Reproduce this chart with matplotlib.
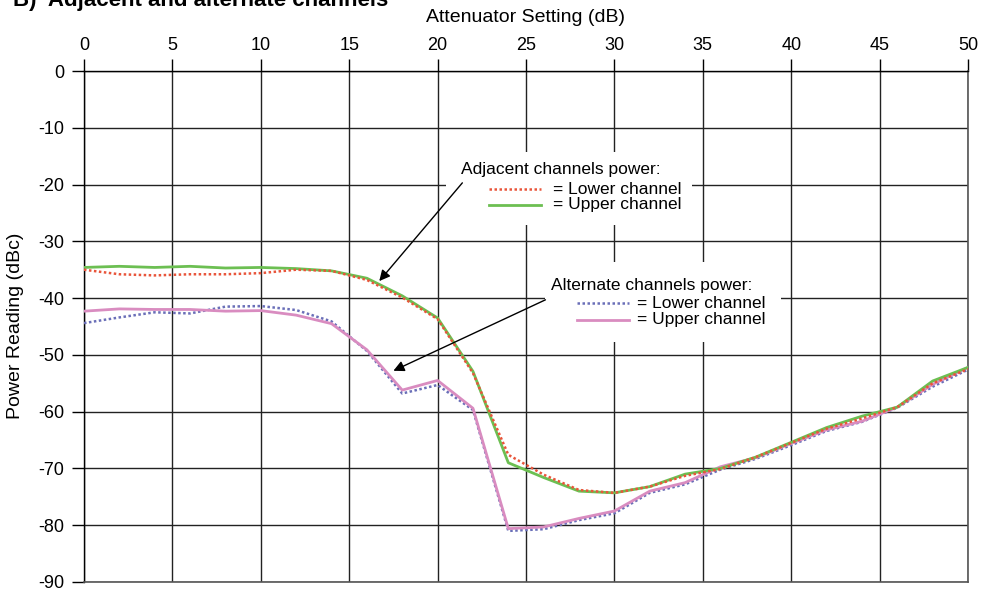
"""Adjacent / alternate channel power versus attenuator setting."""

import matplotlib
matplotlib.use("Agg")
import matplotlib.pyplot as plt
from matplotlib.patches import Rectangle

plt.rcParams["font.family"] = ["Liberation Sans", "DejaVu Sans"]
plt.rcParams["axes.unicode_minus"] = False

# attenuator steps (dB)
atten = [0, 2, 4, 6, 8, 10, 12, 14, 16, 18, 20, 22, 24, 26, 28, 30,
         32, 34, 36, 38, 40, 42, 44, 46, 48, 50]

# adjacent channel power (dBc)
adj_lower = [-35.0, -35.8, -36.0, -35.8, -35.8, -35.6, -35.0, -35.2, -36.8, -39.9,
             -43.7, -53.2, -67.6, -71.1, -73.8, -74.3, -73.2, -71.3, -70.1, -68.0,
             -65.5, -63.0, -61.2, -59.2, -55.0, -52.5]
adj_upper = [-34.6, -34.4, -34.6, -34.4, -34.7, -34.6, -34.8, -35.2, -36.5, -39.6,
             -43.5, -52.9, -69.0, -71.6, -74.0, -74.3, -73.2, -71.0, -70.0, -68.0,
             -65.4, -62.8, -60.8, -59.2, -54.6, -52.2]

# alternate channel power (dBc)
alt_lower = [-44.4, -43.4, -42.5, -42.7, -41.5, -41.4, -42.1, -44.1, -49.3, -56.8,
             -55.3, -59.7, -81.0, -80.7, -79.1, -77.9, -74.3, -72.8, -70.2, -68.3,
             -65.9, -63.4, -61.8, -59.3, -55.6, -52.6]
alt_upper = [-42.3, -41.9, -42.0, -42.0, -42.3, -42.2, -43.0, -44.5, -49.1, -56.2,
             -54.5, -59.4, -80.6, -80.3, -78.8, -77.5, -74.0, -72.5, -69.7, -68.1,
             -65.6, -63.2, -61.7, -59.2, -55.2, -52.2]

x_ticks = list(range(0, 51, 5))
y_ticks = list(range(0, -91, -10))

RED = "#e9553b"
GREEN = "#6cbf52"
BLUE = "#6a6fb8"
PINK = "#d98cc0"
DOT = (0, (1, 1))

fig = plt.figure(figsize=(9.82, 5.95), dpi=100)
ax = fig.add_axes([84 / 982, 1 - 582 / 595, 884 / 982, 511 / 595])

ax.set_xlim(0, 50)
ax.set_ylim(-90, 0)
ax.set_xticks(x_ticks)
ax.set_yticks(y_ticks)
ax.set_yticklabels([str(v) for v in y_ticks])
ax.xaxis.tick_top()
ax.tick_params(axis="both", direction="out", length=9, width=1, colors="black",
               labelsize=13)
ax.tick_params(axis="x", pad=3)
ax.tick_params(axis="y", pad=5)

ax.set_axisbelow(True)
ax.grid(True, color="#222222", lw=1)
for side in ["left", "top"]:
    ax.spines[side].set_color("black")
    ax.spines[side].set_linewidth(1)
for side in ["right", "bottom"]:
    ax.spines[side].set_color("#555555")
    ax.spines[side].set_linewidth(1.2)

# white panels behind the two legend blocks
ax.add_patch(Rectangle((20.5, -27.1), 13.9, 12.8, facecolor="white",
                       edgecolor="none", zorder=1))
ax.add_patch(Rectangle((26.1, -47.7), 13.3, 14.1, facecolor="white",
                       edgecolor="none", zorder=1))

ax.plot(atten, alt_lower, color=BLUE, lw=1.8, ls=DOT, zorder=3)
ax.plot(atten, alt_upper, color=PINK, lw=2, zorder=3)
ax.plot(atten, adj_upper, color=GREEN, lw=2, zorder=4)
ax.plot(atten, adj_lower, color=RED, lw=1.8, ls=DOT, zorder=4)

# legend blocks
fs = 12.5
ax.text(21.3, -17.4, "Adjacent channels power:", fontsize=fs, va="center", zorder=5)
ax.plot([22.9, 25.85], [-20.8, -20.8], color=RED, lw=1.8, ls=DOT, zorder=5)
ax.text(26.5, -20.8, "= Lower channel", fontsize=fs, va="center", zorder=5)
ax.plot([22.9, 25.85], [-23.6, -23.6], color=GREEN, lw=2, zorder=5)
ax.text(26.5, -23.6, "= Upper channel", fontsize=fs, va="center", zorder=5)

ax.text(26.4, -37.7, "Alternate channels power:", fontsize=fs, va="center", zorder=5)
ax.plot([27.87, 30.84], [-40.9, -40.9], color=BLUE, lw=1.8, ls=DOT, zorder=5)
ax.text(31.26, -40.9, "= Lower channel", fontsize=fs, va="center", zorder=5)
ax.plot([27.87, 30.84], [-43.8, -43.8], color=PINK, lw=2, zorder=5)
ax.text(31.26, -43.8, "= Upper channel", fontsize=fs, va="center", zorder=5)

arrow = dict(arrowstyle="-|>", color="black", lw=1, mutation_scale=16,
             shrinkA=0, shrinkB=0)
ax.annotate("", xy=(16.7, -37.0), xytext=(21.4, -19.7), arrowprops=arrow, zorder=6)
ax.annotate("", xy=(17.5, -52.8), xytext=(26.1, -40.3), arrowprops=arrow, zorder=6)

fig.text(526 / 982, 1 - 18 / 595, "Attenuator Setting (dB)", fontsize=14,
         ha="center", va="center")
fig.text(16 / 982, 1 - 326 / 595, "Power Reading (dBc)", fontsize=14,
         rotation=90, ha="center", va="center")
fig.text(13 / 982, 1 - 6 / 595, "B)  Adjacent and alternate channels",
         fontsize=16, fontweight="bold", ha="left", va="baseline")

fig.savefig("out.png", dpi=100)
